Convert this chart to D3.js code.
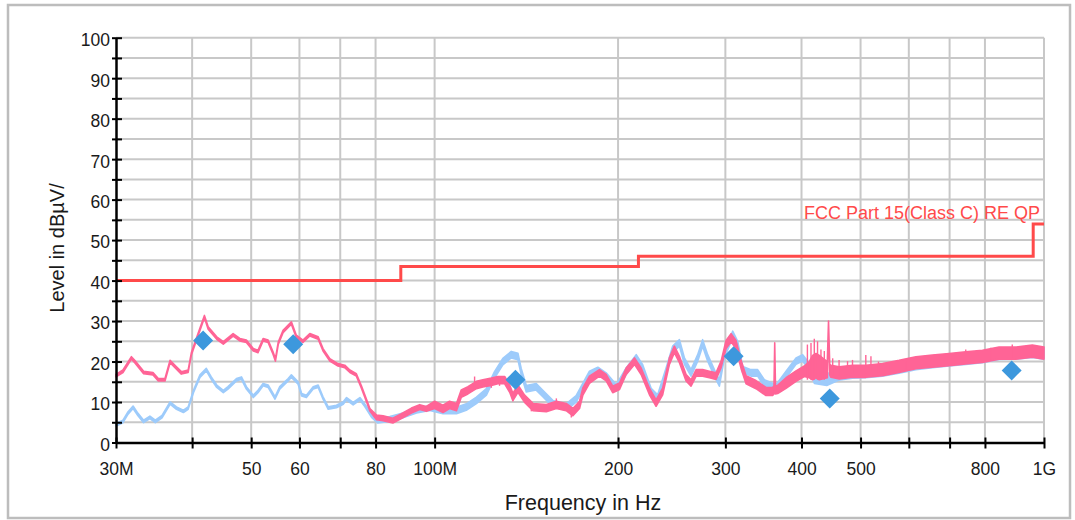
<!DOCTYPE html>
<html>
<head>
<meta charset="utf-8">
<script src="https://cdn.jsdelivr.net/npm/d3@7"></script>
<style>
    body { margin: 0; background: #fff; }
    svg { display: block; font-family: "Liberation Sans", Arial, sans-serif; }
</style>
</head>
<body>
<script>

// frequency (MHz), level (dBuV) and noise half-band (dB)
const peakFreq = [30.0, 30.8, 31.8, 32.2, 33.3, 34.5, 35.2, 36.1, 36.8, 37.7,
    38.4, 39.4, 39.9, 40.9, 41.9, 42.5, 43.9, 45.0, 46.7, 47.9,
    49.1, 50.4, 51.3, 52.3, 53.3, 54.3, 54.8, 55.4, 56.4, 58.2,
    59.3, 60.8, 62.4, 64.4, 65.6, 67.3, 69.4, 71.2, 72.6, 74.4,
    75.8, 77.3, 78.3, 80.3, 82.3, 85.4, 88.2, 91.6, 94.5, 96.9,
    100, 103.2, 105.8, 108.6, 110.6, 113.4, 117.1, 120.0, 123.9, 127.0,
    130.3, 132.8, 134.4, 137.0, 140.5, 145.0, 152.5, 158.4, 164.4, 168.6,
    172.9, 175.1, 179.5, 186.4, 191.2, 196.0, 201.1, 206.2, 212.8, 218.2,
    225.2, 230.9, 236.7, 242.8, 247.4, 252.2, 258.6, 263.5, 268.6, 275.3,
    282.4, 289.6, 295.2, 300.8, 306.5, 312.3, 318.3, 324.4, 336.8, 349.8,
    358.6, 360.5, 361.5, 362.5, 365.5, 377.3, 391.8, 404.3, 412, 417.1,
    422.5, 427.8, 441, 443, 445, 447.1, 461.3, 485.1, 510.3, 543.3,
    578.5, 616.2, 656, 698.7, 744.1, 792.4, 843.9, 898.8, 956.9, 1000];
const peakLevel = [16.5, 17.6, 20.9, 20, 17.3, 17, 15.5, 15.5, 20, 18.4,
    17.2, 17.6, 22, 26.6, 31.1, 28.3, 25.8, 24.6, 26.6, 25.4,
    25, 22.9, 22.5, 25.4, 25, 22.1, 20.4, 24.6, 27.4, 29.5,
    26.2, 25, 26.6, 25.8, 22.9, 20.4, 19.2, 18.8, 17.6, 16.7,
    13.75, 10.4, 8.1, 6.2, 6, 5.4, 6.5, 7.9, 8.75, 8.3,
    9.3, 8.3, 9.3, 8.75, 12.1, 12.9, 14.2, 14.6, 15, 15.4,
    15.4, 13.3, 11.25, 13.3, 10.8, 8.75, 8.5, 9.3, 8.75, 7.5,
    9.3, 12.6, 15.5, 17.2, 16, 13.1, 13.9, 17.6, 20.1, 17.6,
    12.6, 9.75, 12.6, 20.1, 23, 20.5, 16, 14.7, 17.2, 17.2,
    16.8, 16.4, 19.3, 24.2, 25.9, 24.2, 19.3, 15.5, 14.3, 12.6,
    12.6, 13, 24.6, 13, 13.1, 14.7, 16.4, 17.6, 18, 18.5,
    19, 18.5, 18, 30, 18, 17.6, 17.2, 17.6, 17.6, 18,
    18.8, 19.7, 20.1, 20.5, 20.9, 21.3, 22.1, 22.1, 22.6, 22.1];
const peakNoise = [0.3, 0.3, 0.3, 0.3, 0.3, 0.3, 0.3, 0.3, 0.3, 0.3,
    0.3, 0.3, 0.3, 0.3, 0.3, 0.3, 0.3, 0.3, 0.3, 0.3,
    0.3, 0.3, 0.3, 0.3, 0.3, 0.3, 0.3, 0.3, 0.3, 0.3,
    0.3, 0.3, 0.3, 0.3, 0.3, 0.3, 0.3, 0.3, 0.3, 0.3,
    0.3, 0.3, 0.3, 0.6, 0.6, 0.6, 0.6, 0.6, 0.6, 0.6,
    0.9, 0.9, 0.9, 0.9, 0.9, 0.9, 0.9, 0.9, 0.9, 0.9,
    0.9, 0.9, 0.9, 0.9, 0.9, 0.9, 0.9, 0.9, 0.9, 0.9,
    0.9, 0.9, 0.9, 0.8, 0.8, 0.8, 0.8, 0.8, 0.8, 0.8,
    0.8, 0.8, 0.8, 0.8, 0.8, 0.8, 0.8, 0.8, 0.8, 0.8,
    0.8, 0.8, 0.8, 1.0, 1.0, 1.0, 1.0, 1.0, 1.0, 1.0,
    1.0, 1.0, 0, 1.0, 1.0, 1.3, 1.3, 1.3, 2.0, 3.0,
    3.0, 3.0, 2.0, 0, 1.3, 1.5, 1.5, 1.5, 1.5, 1.5,
    1.5, 1.5, 1.5, 1.5, 1.5, 1.5, 1.5, 1.5, 1.5, 1.5];

// single sweep spikes on the peak trace: frequency, top and bottom (dBuV)
const spikeFreq = [116.3, 123.9, 127.8, 134.4, 144.1, 158.4, 167.6, 409, 414.6, 419.8,
    425, 430.5, 436, 450, 461, 476, 485, 510, 520, 535,
    557, 593, 668, 744, 818, 887, 957];
const spikeTop = [16.3, 15.9, 16.3, 12.5, 9.5, 10.9, 8.5, 24.2, 24.6, 25.6,
    25, 23, 22.6, 20.8, 20.4, 20.1, 20.4, 21.6, 21.3, 20,
    19.7, 20.1, 21.7, 23, 23.4, 24.2, 23.8];
const spikeBottom = [13.5, 13.5, 14, 10.2, 7.7, 8.5, 6.2, 15.5, 15.5, 15.5,
    15.5, 15.5, 15.5, 16.5, 16.5, 16.8, 17, 17, 17.2, 17.2,
    17.5, 17.8, 19, 20, 20.5, 21, 21.5];

const avgFreq = [30.0, 30.8, 31.4, 32.0, 32.6, 33.3, 34.1, 34.8, 35.7, 36.8,
    37.7, 38.7, 39.4, 40.2, 41.2, 42.2, 43.0, 43.9, 45.0, 45.8,
    47.3, 48.2, 49.1, 50.4, 51.3, 52.3, 53.3, 54.7, 55.7, 57.5,
    58.2, 59.7, 60.5, 61.6, 63.2, 64.4, 65.6, 66.9, 69.0, 70.8,
    71.7, 73.5, 75.4, 76.8, 78.8, 80.7, 84.4, 88.7, 93.4, 98.2,
    103.2, 108.6, 112.7, 117.1, 121.6, 125.4, 129.4, 133.6, 137.0, 138.7,
    141.4, 146.8, 150.5, 156.3, 164.4, 170.7, 179.5, 185.3, 191.2, 198.6,
    206.2, 214.2, 219.5, 226.6, 232.3, 239.8, 245.8, 252.2, 257, 263.5,
    270.2, 275.3, 280.6, 287.8, 293.3, 298.9, 308.4, 314.3, 320.3, 330.5,
    338.9, 347.6, 363.3, 377.3, 391.8, 401.7, 412, 420, 440, 460,
    485, 510, 543, 578, 616, 656, 699, 744, 792, 844,
    899, 957, 1000];
const avgLevel = [4.4, 5.2, 7.3, 8.7, 6.9, 5.2, 6.2, 5.2, 6.4, 9.75,
    8.5, 7.7, 8.5, 12.6, 16.4, 18, 15.9, 13.9, 12.6, 13.5,
    15.5, 15.9, 13.5, 11.4, 12.6, 14.3, 13.9, 11, 13.5, 15.5,
    16.4, 14.7, 11.8, 11.4, 13.5, 13.9, 11, 8.5, 8.9, 9.75,
    10.8, 9.6, 10.8, 9.2, 6.7, 5.4, 5.8, 6.7, 7.9, 8.5,
    7.9, 7.9, 8.75, 10.4, 12.5, 16.7, 20, 21.7, 21.25, 17.5,
    13.3, 13.75, 12.1, 9.6, 8.75, 10.8, 16.8, 17.8, 16.4, 13.5,
    17.6, 20.9, 18.4, 12.6, 11, 17.6, 23, 24.6, 20.1, 17.2,
    20.9, 24.6, 20.9, 17.2, 14.7, 21.7, 26.7, 24.2, 18, 17.2,
    17.2, 14.7, 13.5, 16.8, 20.1, 20.9, 18.8, 16, 15.5, 16.8,
    17.3, 17.4, 17.8, 18.5, 19.4, 19.9, 20.3, 20.7, 21.1, 21.9,
    22.0, 22.4, 22];
const avgNoise = [0.3, 0.3, 0.3, 0.3, 0.3, 0.3, 0.3, 0.3, 0.3, 0.3,
    0.3, 0.3, 0.3, 0.3, 0.3, 0.3, 0.3, 0.3, 0.3, 0.3,
    0.3, 0.3, 0.3, 0.3, 0.3, 0.3, 0.3, 0.3, 0.3, 0.3,
    0.3, 0.3, 0.3, 0.3, 0.3, 0.3, 0.3, 0.3, 0.3, 0.3,
    0.3, 0.3, 0.3, 0.3, 0.5, 0.6, 0.6, 0.6, 0.6, 0.6,
    0.8, 0.8, 0.8, 0.8, 0.8, 0.8, 0.8, 0.8, 0.8, 0.8,
    0.8, 0.8, 0.8, 0.8, 0.8, 0.8, 0.8, 0.8, 0.8, 0.8,
    0.8, 0.8, 0.8, 0.8, 0.8, 0.8, 0.8, 0.8, 0.8, 0.8,
    0.8, 0.8, 0.8, 0.8, 0.8, 0.8, 0.8, 0.8, 0.8, 0.8,
    0.8, 0.8, 0.8, 0.8, 0.8, 0.8, 0.8, 1.4, 1.4, 1.4,
    1.4, 1.4, 1.4, 1.4, 1.4, 1.4, 1.4, 1.4, 1.4, 1.4,
    1.4, 1.4, 1.4];

// final QP measurements (diamonds)
const finalFreq = [41.7, 58.6, 135.7, 309.5, 445, 885];
const finalLevel = [25.2, 24.3, 15.5, 21.3, 10.9, 17.8];

// FCC Part 15 class C limit, step after each frequency
const limitFreq = [30, 88, 216, 960, 1000];
const limitLevel = [40, 43.5, 46, 54, 54];
const limitLabel = 'FCC Part 15(Class C) RE QP';

// axis ticks
const xTicks = [30, 40, 50, 60, 70, 80, 100, 200, 300, 400, 500, 600, 700, 800, 1000];
const xTickLabels = new Map([[30, '30M'], [50, '50'], [60, '60'], [80, '80'], [100, '100M'],
    [200, '200'], [300, '300'], [400, '400'], [500, '500'], [800, '800'], [1000, '1G']]);
const yTicks = d3.range(0, 101, 5);

const SCREEN_DIMENSIONS = {
    width: 1075,
    height: 520,
    leftMargin: 116,
    rightMargin: 31,
    topMargin: 37.7,
    bottomMargin: 77.5
}
SCREEN_DIMENSIONS.innerWidth = SCREEN_DIMENSIONS.width - SCREEN_DIMENSIONS.leftMargin - SCREEN_DIMENSIONS.rightMargin;
SCREEN_DIMENSIONS.innerHeight = SCREEN_DIMENSIONS.height - SCREEN_DIMENSIONS.topMargin - SCREEN_DIMENSIONS.bottomMargin;

const COLORS = {
    peak: '#ff6496',
    avg: '#9dcbfb',
    marker: '#3d98dd',
    limit: '#ff4a4a',
    grid: '#c8c8c8'
}

var svg = d3.select('body').append('svg')
    .attr('width', SCREEN_DIMENSIONS.width)
    .attr('height', SCREEN_DIMENSIONS.height);

// outer frame
svg.append('rect')
    .attr('x', 8)
    .attr('y', 5)
    .attr('width', 1062)
    .attr('height', 513)
    .attr('fill', 'none')
    .attr('stroke', '#bdbdbd')
    .attr('stroke-width', 2.5);

const x = d3.scaleLog()
    .domain([30, 1000])
    .range([0, SCREEN_DIMENSIONS.innerWidth]);

const y = d3.scaleLinear()
    .domain([0, 100])
    .range([SCREEN_DIMENSIONS.innerHeight, 0]);

const canvas = svg.append('g')
    .attr('transform', `translate(${SCREEN_DIMENSIONS.leftMargin},${SCREEN_DIMENSIONS.topMargin})`);

// grid
const grid = canvas.append('g')
    .attr('stroke', COLORS.grid)
    .attr('stroke-width', 2);

grid.selectAll('.hgrid')
    .data(yTicks.filter(d => d > 0))
    .enter()
    .append('line')
    .attr('x1', 0)
    .attr('x2', SCREEN_DIMENSIONS.innerWidth)
    .attr('y1', d => y(d))
    .attr('y2', d => y(d));

grid.selectAll('.vgrid')
    .data(xTicks.filter(d => d > 30))
    .enter()
    .append('line')
    .attr('x1', d => x(d))
    .attr('x2', d => x(d))
    .attr('y1', 0)
    .attr('y2', SCREEN_DIMENSIONS.innerHeight);

// limit line
canvas.append('path')
    .datum(limitFreq.map((f, i) => ({ f: f, l: limitLevel[i] })))
    .attr('fill', 'none')
    .attr('stroke', COLORS.limit)
    .attr('stroke-width', 3)
    .attr('d', d3.line().x(d => x(d.f)).y(d => y(d.l)).curve(d3.curveStepAfter));

canvas.append('text')
    .attr('x', 924)
    .attr('y', 181.5)
    .attr('text-anchor', 'end')
    .attr('fill', COLORS.limit)
    .style('font-size', '18px')
    .text(limitLabel);

// traces: noise band + outline
const band = d3.area()
    .x(d => x(d.f))
    .y0(d => y(d.l - d.s))
    .y1(d => y(d.l + d.s));

const drawTrace = (freqs, levels, noise, color) => {
    let rows = freqs.map((f, i) => ({ f: f, l: levels[i], s: noise[i] }));
    canvas.append('path')
        .datum(rows)
        .attr('fill', color)
        .attr('stroke', color)
        .attr('stroke-width', 1.6)
        .attr('stroke-linejoin', 'round')
        .attr('d', band);
}

drawTrace(avgFreq, avgLevel, avgNoise, COLORS.avg);
drawTrace(peakFreq, peakLevel, peakNoise, COLORS.peak);

// spikes on the peak trace
canvas.append('g')
    .selectAll('line')
    .data(spikeFreq.map((f, i) => ({ f: f, top: spikeTop[i], bottom: spikeBottom[i] })))
    .enter()
    .append('line')
    .attr('x1', d => x(d.f))
    .attr('x2', d => x(d.f))
    .attr('y1', d => y(d.top))
    .attr('y2', d => y(d.bottom))
    .attr('stroke', COLORS.peak)
    .attr('stroke-width', 1.4);

// final measurement diamonds
canvas.append('g')
    .selectAll('path')
    .data(finalFreq.map((f, i) => ({ f: f, l: finalLevel[i] })))
    .enter()
    .append('path')
    .attr('d', d3.symbol().type(d3.symbolSquare).size(200))
    .attr('transform', d => `translate(${x(d.f)},${y(d.l)}) rotate(45)`)
    .attr('fill', COLORS.marker);

// Draw axis
const yAxisGroup = canvas.append('g')
    .call(d3.axisLeft(y)
        .tickValues(yTicks)
        .tickSize(4)
        .tickPadding(2)
        .tickSizeOuter(0)
        .tickFormat(d => d % 10 === 0 ? d : ''));

const xAxisGroup = canvas.append('g')
    .attr('transform', `translate(0, ${SCREEN_DIMENSIONS.innerHeight})`)
    .call(d3.axisBottom(x)
        .tickValues(xTicks)
        .tickSize(6)
        .tickPadding(14)
        .tickSizeOuter(0)
        .tickFormat(d => xTickLabels.get(d) || ''));

yAxisGroup.selectAll('.tick line').attr('x1', 6).attr('x2', -4);
xAxisGroup.selectAll('.tick line').attr('y1', -5).attr('y2', 6);

[yAxisGroup, xAxisGroup].forEach(g => {
    g.select('.domain').attr('stroke', '#000').attr('stroke-width', 2.5);
    g.selectAll('.tick line').attr('stroke', '#000').attr('stroke-width', 2);
    g.selectAll('.tick text')
        .attr('fill', '#1a1a1a')
        .style('font-family', '"Liberation Sans", Arial, sans-serif')
        .style('font-size', '17.5px');
});
yAxisGroup.selectAll('.tick text').attr('dy', '0.45em');

// axis titles
svg.append('text')
    .attr('x', 583)
    .attr('y', 510)
    .attr('text-anchor', 'middle')
    .attr('fill', '#1a1a1a')
    .style('font-size', '21.5px')
    .text('Frequency in Hz');

svg.append('text')
    .attr('transform', 'translate(64, 248) rotate(-90)')
    .attr('text-anchor', 'middle')
    .attr('fill', '#1a1a1a')
    .style('font-size', '20px')
    .text('Level in dBµV/');

</script>
</body>
</html>
